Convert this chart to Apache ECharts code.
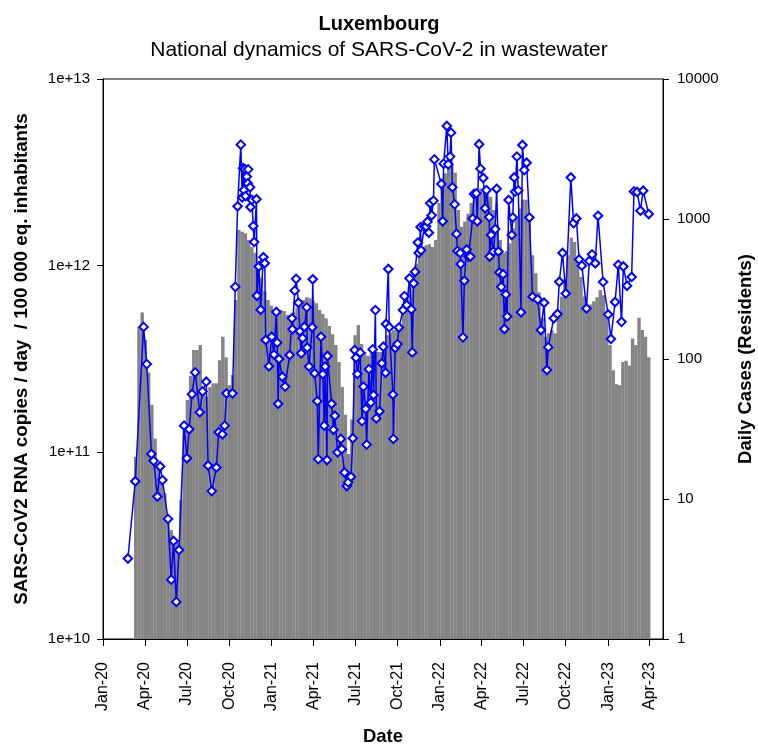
<!DOCTYPE html>
<html>
<head>
<meta charset="utf-8">
<script src="https://cdn.jsdelivr.net/npm/echarts@6/dist/echarts.min.js"></script>
<style>
html,body{margin:0;padding:0;background:#fff;}
#chart{width:758px;height:745px;}
</style>
</head>
<body>
<div id="chart"></div>
<script>
const titleText = 'Luxembourg';
const subtitleText = 'National dynamics of SARS-CoV-2 in wastewater';
const xAxisName = 'Date';
const leftAxisName = 'SARS-CoV2 RNA copies / day  / 100 000 eq. inhabitants';
const rightAxisName = 'Daily Cases (Residents)';

const tickDates = ['2020-01-01','2020-04-01','2020-07-01','2020-10-01','2021-01-01','2021-04-01','2021-07-01','2021-10-01','2022-01-01','2022-04-01','2022-07-01','2022-10-01','2023-01-01','2023-04-01'];
const tickLabels = ['Jan-20','Apr-20','Jul-20','Oct-20','Jan-21','Apr-21','Jul-21','Oct-21','Jan-22','Apr-22','Jul-22','Oct-22','Jan-23','Apr-23'];
const xMin = '2020-01-01';
const xMax = '2023-04-30';

// Wastewater SARS-CoV-2 load (left, log axis)
const wwDates = [
'2020-02-24','2020-03-11','2020-03-29','2020-04-05','2020-04-15','2020-04-20','2020-04-28','2020-05-04','2020-05-09','2020-05-21',
'2020-05-28','2020-06-02','2020-06-08','2020-06-14','2020-06-25','2020-07-01','2020-07-06','2020-07-12','2020-07-19','2020-07-29',
'2020-08-04','2020-08-12','2020-08-16','2020-08-24','2020-09-03','2020-09-08','2020-09-16','2020-09-21','2020-09-25','2020-10-08',
'2020-10-14','2020-10-19','2020-10-26','2020-10-29','2020-10-31','2020-11-02','2020-11-04','2020-11-05','2020-11-08','2020-11-10',
'2020-11-11','2020-11-15','2020-11-16','2020-11-19','2020-11-22','2020-11-24','2020-11-29','2020-11-30','2020-12-04','2020-12-08',
'2020-12-13','2020-12-14','2020-12-17','2020-12-19','2020-12-26','2021-01-01','2021-01-06','2021-01-11','2021-01-13','2021-01-15',
'2021-01-17','2021-01-24','2021-01-30','2021-02-09','2021-02-14','2021-02-15','2021-02-20','2021-02-23','2021-02-28','2021-03-03',
'2021-03-06','2021-03-09','2021-03-13','2021-03-18','2021-03-19','2021-03-23','2021-03-30','2021-03-31','2021-04-04','2021-04-10',
'2021-04-12','2021-04-18','2021-04-22','2021-04-25','2021-04-27','2021-05-01','2021-05-02','2021-05-11','2021-05-15','2021-05-18',
'2021-05-24','2021-05-31','2021-06-02','2021-06-08','2021-06-13','2021-06-16','2021-06-22','2021-06-26','2021-06-30','2021-07-03',
'2021-07-06','2021-07-12','2021-07-16','2021-07-19','2021-07-24','2021-07-26','2021-07-31','2021-08-04','2021-08-08','2021-08-10',
'2021-08-14','2021-08-16','2021-08-23','2021-08-28','2021-08-31','2021-09-05','2021-09-06','2021-09-11','2021-09-13','2021-09-21',
'2021-09-22','2021-09-26','2021-10-01','2021-10-04','2021-10-13','2021-10-16','2021-10-21','2021-10-27','2021-10-31','2021-11-02',
'2021-11-05','2021-11-08','2021-11-14','2021-11-16','2021-11-20','2021-11-21','2021-11-28','2021-12-02','2021-12-05','2021-12-08',
'2021-12-11','2021-12-14','2021-12-18','2021-12-20','2022-01-04','2022-01-07','2022-01-09','2022-01-16','2022-01-19','2022-01-23',
'2022-01-25','2022-01-28','2022-02-02','2022-02-06','2022-02-08','2022-02-14','2022-02-15','2022-02-20','2022-02-23','2022-02-28',
'2022-03-04','2022-03-08','2022-03-13','2022-03-16','2022-03-21','2022-03-23','2022-03-27','2022-03-30','2022-04-05','2022-04-09',
'2022-04-12','2022-04-18','2022-04-19','2022-04-22','2022-04-27','2022-05-01','2022-05-04','2022-05-08','2022-05-10','2022-05-14',
'2022-05-18','2022-05-21','2022-05-24','2022-05-27','2022-05-30','2022-06-06','2022-06-08','2022-06-11','2022-06-13','2022-06-17',
'2022-06-20','2022-06-26','2022-06-29','2022-07-03','2022-07-08','2022-07-14','2022-07-21','2022-08-01','2022-08-08','2022-08-15',
'2022-08-21','2022-08-24','2022-09-05','2022-09-13','2022-09-17','2022-09-24','2022-10-01','2022-10-12','2022-10-18','2022-10-24',
'2022-10-30','2022-11-05','2022-11-15','2022-11-21','2022-11-27','2022-12-04','2022-12-10','2022-12-21','2023-01-01','2023-01-07',
'2023-01-16','2023-01-23','2023-01-30','2023-02-03','2023-02-11','2023-02-21','2023-02-26','2023-03-05','2023-03-12','2023-03-18',
'2023-03-30'
];
const wwValues = [
2.7e10,7.0e10,4.7e11,2.97e11,9.8e10,9.0e10,5.8e10,8.4e10,7.1e10,4.4e10,
2.08e10,3.35e10,1.58e10,3.0e10,1.39e11,9.3e10,1.33e11,2.05e11,2.68e11,1.64e11,
2.12e11,2.39e11,8.5e10,6.2e10,8.3e10,1.28e11,1.25e11,1.39e11,2.07e11,2.07e11,
7.7e11,2.08e12,4.45e12,2.32e12,3.33e12,2.54e12,3.29e12,2.36e12,3.0e12,2.76e12,
3.28e12,2.63e12,2.06e12,2.25e12,1.63e12,1.34e12,2.27e12,6.9e11,9.9e11,5.8e11,
1.03e12,1.11e12,1.03e12,4.0e11,2.89e11,4.16e11,3.34e11,5.65e11,3.87e11,1.82e11,
3.16e11,2.54e11,2.25e11,3.32e11,5.22e11,4.56e11,7.35e11,8.5e11,6.33e11,4.45e11,
3.39e11,4.09e11,4.71e11,5.98e11,3.64e11,2.88e11,4.68e11,8.45e11,2.65e11,1.88e11,
9.2e10,4.16e11,2.62e11,1.39e11,2.88e11,9.1e10,3.28e11,1.82e11,1.32e11,1.57e11,
1.0e11,1.18e11,1.04e11,7.8e10,6.6e10,6.9e10,7.4e10,1.19e11,3.53e11,3.21e11,
2.63e11,3.42e11,1.47e11,2.25e11,1.71e11,1.10e11,2.79e11,1.85e11,3.56e11,2.03e11,
5.78e11,1.52e11,1.66e11,3.0e11,3.68e11,2.67e11,4.87e11,9.6e11,4.68e11,2.04e11,
1.18e11,3.62e11,3.8e11,4.66e11,5.78e11,6.87e11,6.15e11,8.55e11,5.83e11,3.43e11,
8.04e11,9.28e11,1.33e12,1.17e12,1.61e12,1.21e12,1.62e12,1.62e12,1.72e12,1.50e12,
2.16e12,1.86e12,2.23e12,3.71e12,2.74e12,1.73e12,3.52e12,5.6e12,3.49e12,3.84e12,
5.16e12,2.63e12,2.13e12,1.48e12,1.2e12,1.17e12,1.02e12,4.13e11,8.3e11,1.22e12,
1.12e12,1.12e12,1.79e12,2.42e12,2.44e12,1.73e12,4.47e12,3.31e12,2.95e12,2.03e12,
2.54e12,1.82e12,1.12e12,1.46e12,1.19e12,1.57e12,2.58e12,1.19e12,9.2e11,7.7e11,
9.0e11,4.58e11,7.0e11,5.34e11,2.25e12,1.46e12,1.81e12,2.97e12,2.49e12,3.84e12,
2.53e12,5.63e11,4.43e12,3.25e12,3.56e12,1.81e12,6.82e11,6.6e11,4.52e11,6.33e11,
2.76e11,3.66e11,5.23e11,5.51e11,8.2e11,1.17e12,7.1e11,2.97e12,1.69e12,1.79e12,
1.08e12,1.0e12,5.9e11,1.06e12,1.15e12,1.03e12,1.85e12,8.18e11,5.48e11,4.05e11,
6.39e11,1.01e12,5.0e11,9.9e11,7.8e11,8.7e11,2.5e12,2.48e12,1.97e12,2.52e12,
1.89e12
];

// Daily cases (right, log axis), one value per week starting at caseStart
const caseStart = '2020-03-12';
const caseStepDays = 7;
const caseValues = [
20,170,215,137,80,47,27,17.5,13,11,
7.3,6,4.7,5.1,9.8,31,51,76,116,116,
126,58,54,63,67,67,98,144,103,65,
77,264,834,810,790,708,630,575,465,380,
305,264,240,224,216,224,220,206,206,216,
232,250,264,276,272,258,250,224,210,195,
172,150,126,95,63,40,21,37,148,175,
128,112,105,110,120,112,112,133,148,155,
161,161,168,206,256,325,395,480,590,630,
650,660,630,708,1300,1680,2120,2340,2500,2140,
1160,880,960,1090,1300,1500,1590,1650,1630,1590,
1440,1160,910,708,575,590,670,860,1020,1190,
1370,1370,960,550,410,300,197,144,153,161,
153,206,280,372,550,735,685,510,385,280,
240,245,258,276,311,285,197,126,83,66,
65,95,97,90,140,126,197,161,144,103
];

// convert a 'YYYY-MM-DD' date to days since xMin (x positions go through the value axis)
function utc(s){ const p = s.split('-').map(Number); return Date.UTC(p[0], p[1]-1, p[2]); }
const day0 = utc(xMin);
function dayOf(s){ return Math.round((utc(s) - day0) / 864e5); }
const tickDays = tickDates.map(dayOf);
const wwData = wwDates.map((d,i)=>[dayOf(d), wwValues[i]]);
const caseStartDay = dayOf(caseStart);
const caseData = caseValues.map((v,i)=>[caseStartDay + caseStepDays*i, v]);

const FONT = 'Liberation Sans, Arial, sans-serif';
const chart = echarts.init(document.getElementById('chart'), null, {renderer:'canvas'});
chart.setOption({
  animation: false,
  backgroundColor: '#fff',
  title: [
    {text: titleText, left: 'center', top: 9, textStyle:{fontFamily:FONT, fontSize:20, fontWeight:'bold', color:'#000'}},
    {text: subtitleText, left: 'center', top: 35, textStyle:{fontFamily:FONT, fontSize:21, fontWeight:'normal', color:'#000'}}
  ],
  grid: {left:103, right:95, top:79, bottom:106, show:true, borderColor:'#000', borderWidth:1,
         containLabel:false, outerBoundsMode:'none'},
  xAxis: {
    type:'value', min: 0, max: dayOf(xMax),
    name: xAxisName, nameLocation:'middle', nameGap: 88,
    nameTextStyle:{fontFamily:FONT, fontSize:18.5, fontWeight:'bold', color:'#000'},
    axisLine:{show:true, lineStyle:{color:'#000', width:1}},
    axisTick:{show:true, length:7, lineStyle:{color:'#000'}, customValues: tickDays},
    axisLabel:{customValues: tickDays, rotate:90, margin:23, fontFamily:FONT, fontSize:16, color:'#000',
      formatter: function(v){ const i = tickDays.indexOf(Math.round(v)); return i >= 0 ? tickLabels[i] : ''; }},
    splitLine:{show:false}
  },
  yAxis: [
    {type:'log', logBase:10, min:1e10, max:1e13, position:'left',
     name: leftAxisName, nameLocation:'middle', nameGap:72, nameRotate:90,
     nameTextStyle:{fontFamily:FONT, fontSize:18.8, fontWeight:'bold', color:'#000'},
     axisLine:{show:true, lineStyle:{color:'#000', width:1}},
     axisTick:{show:true, length:6, lineStyle:{color:'#000'}},
     minorTick:{show:false},
     axisLabel:{fontFamily:FONT, fontSize:15, color:'#000', margin:13,
       formatter: v => '1e+' + Math.round(Math.log10(v))},
     splitLine:{show:false}},
    {type:'log', logBase:10, min:1, max:10000, position:'right',
     name: rightAxisName, nameLocation:'middle', nameGap:73, nameRotate:90,
     nameTextStyle:{fontFamily:FONT, fontSize:18.5, fontWeight:'bold', color:'#000'},
     axisLine:{show:true, lineStyle:{color:'#000', width:1}},
     axisTick:{show:true, length:6, lineStyle:{color:'#000'}},
     minorTick:{show:false},
     axisLabel:{fontFamily:FONT, fontSize:15, color:'#000', margin:14,
       formatter: v => String(Math.round(v))},
     splitLine:{show:false}}
  ],
  series: [
    {type:'bar', name:'Daily cases', yAxisIndex:1, data: caseData, barWidth: 3.4,
     itemStyle:{color:'#848484'}, z:1, silent:true},
    {type:'line', name:'Wastewater', yAxisIndex:0, data: wwData,
     symbol:'diamond', symbolSize:8.5, showAllSymbol:true,
     lineStyle:{color:'#0000ff', width:1.5},
     itemStyle:{color:'#ffffff', borderColor:'#0000ff', borderWidth:2}, z:3}
  ]
});
</script>
</body>
</html>
